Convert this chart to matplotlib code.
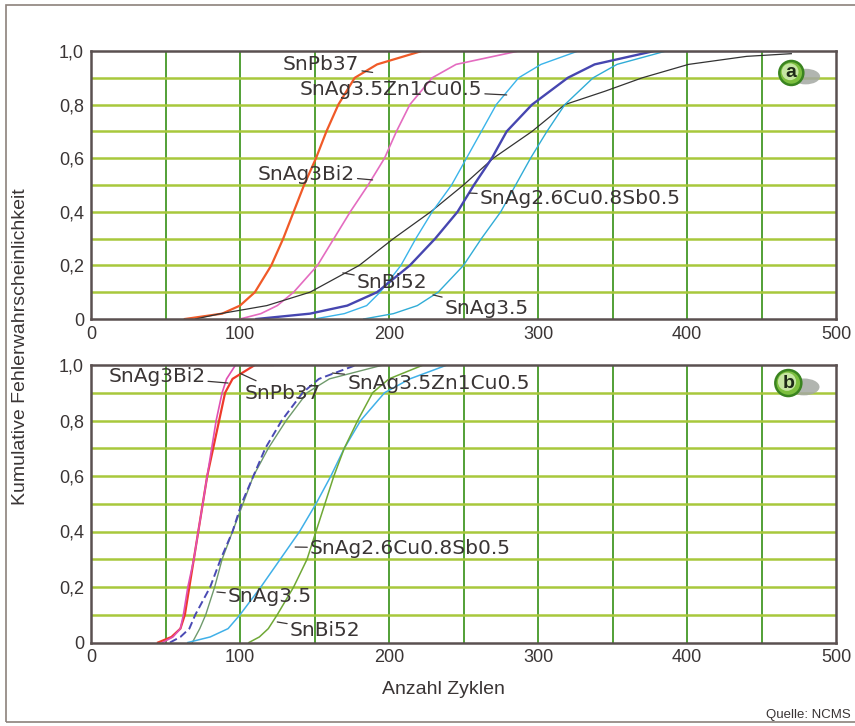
import matplotlib
matplotlib.use("Agg")
import matplotlib.pyplot as plt
from matplotlib.patches import Rectangle, Ellipse
from matplotlib.transforms import ScaledTranslation

# ---------------- data (panel a) ----------------
levels = [0, 0.02, 0.05, 0.1, 0.2, 0.3, 0.4, 0.5, 0.6, 0.7, 0.8, 0.9, 0.95, 1.0, 1.0]

a_snpb37_x = [63, 88, 100, 110, 121, 129, 136, 143, 151, 158, 166, 177, 192, 222, 240]
a_snag3bi2_x = [100, 114, 125, 136, 152, 163, 174, 186, 197, 205, 214, 229, 245, 287, 300]
a_snag35zn_x = [150, 170, 185, 194, 208, 218, 229, 242, 252, 262, 272, 287, 302, 327, 350]
a_snag26_x = [111, 147, 172, 192, 214, 231, 246, 257, 269, 279, 296, 320, 338, 378, 470]
a_snag35_x = [183, 203, 219, 233, 250, 262, 275, 285, 295, 306, 318, 337, 353, 386, 420]
a_snbi52_x = [70, 87, 118, 147, 180, 203, 228, 250, 270, 296, 318, 345, 370, 401, 440, 470]
a_snbi52_y = [0, 0.02, 0.05, 0.1, 0.2, 0.3, 0.4, 0.5, 0.6, 0.7, 0.8, 0.85, 0.9, 0.95, 0.98, 0.99]

# ---------------- data (panel b) ----------------
b_snpb37_x = [45, 54, 60, 63, 66, 69, 72, 75, 78, 82, 86, 90, 95, 110, 122]
b_snag3bi2_x = [48, 55, 60, 62, 65, 69, 72, 75, 78, 81, 84, 88, 91, 97, 104]
b_snag35_x = [53, 60, 66, 70, 80, 87, 95, 101, 109, 117, 128, 142, 153, 178, 200]
b_snag35zn_x = [68, 70, 73, 77, 83, 88, 95, 102, 109, 119, 131, 145, 160, 196, 210]
b_snag26_x = [65, 80, 92, 100, 114, 127, 140, 151, 161, 170, 181, 197, 214, 239, 245]
b_snbi52_x = [106, 113, 119, 125, 136, 145, 151, 157, 163, 170, 179, 189, 200, 223, 235]

x_ticks = [0, 100, 200, 300, 400, 500]
y_ticks = [0, 0.2, 0.4, 0.6, 0.8, 1.0]
y_tick_labels = ["0", "0,2", "0,4", "0,6", "0,8", "1,0"]

W, H = 855, 726
fig = plt.figure(figsize=(W / 100, H / 100), dpi=100)
fig.patch.set_facecolor("white")

TICKFONT = ["Liberation Sans", "DejaVu Sans"]
LABFONT = ["DejaVu Sans"]
TXT = "#3a3535"

ax_a = fig.add_axes([91 / W, 1 - 319 / H, (836 - 91) / W, 268 / H])
ax_b = fig.add_axes([91 / W, 1 - 642.5 / H, (836 - 91) / W, 277.5 / H])


def style(ax):
    ax.set_xlim(0, 500)
    ax.set_ylim(0, 1.0)
    for v in range(50, 500, 50):
        ax.axvline(v, color="#52a036", lw=1.4, zorder=1)
    for i in range(1, 10):
        ax.axhline(i / 10, color="#a8c83c", lw=1.8, zorder=1)
    ax.set_xticks(x_ticks)
    ax.set_xticklabels([str(t) for t in x_ticks], family=TICKFONT, fontsize=13, color=TXT)
    ax.set_yticks(y_ticks)
    ax.set_yticklabels(y_tick_labels, family=TICKFONT, fontsize=13, color=TXT)
    ax.tick_params(length=0, pad=5)
    for s in ax.spines.values():
        s.set_color("#5a5050")
        s.set_linewidth(1.8)
        s.set_zorder(5)


style(ax_a)
style(ax_b)

# ---- panel a curves
ax_a.plot(a_snpb37_x, levels, color="#f05a28", lw=1.6, zorder=3)
ax_a.plot(a_snag3bi2_x, levels, color="#e46cc0", lw=1.2, zorder=3)
ax_a.plot(a_snbi52_x, a_snbi52_y, color="#333333", lw=0.9, zorder=3)
ax_a.plot(a_snag35zn_x, levels, color="#3ab4ea", lw=1.0, zorder=3)
ax_a.plot(a_snag26_x, levels, color="#4646b0", lw=1.7, zorder=3)
ax_a.plot(a_snag35_x, levels, color="#30acd6", lw=1.0, zorder=3)

# ---- panel b curves
ax_b.plot(b_snpb37_x, levels, color="#ee3a2a", lw=1.6, zorder=3)
ax_b.plot(b_snag3bi2_x, levels, color="#e050b4", lw=1.2, zorder=3)
ax_b.plot(b_snag35zn_x, levels, color="#6f9a6c", lw=1.0, zorder=3)
ax_b.plot(b_snag35_x, levels, color="#4a4ab4", lw=1.4, ls=(0, (4, 2)), zorder=3)
ax_b.plot(b_snag26_x, levels, color="#40b0e8", lw=1.1, zorder=3)
ax_b.plot(b_snbi52_x, levels, color="#6fa836", lw=1.1, zorder=3)

LBL = dict(family=LABFONT, fontsize=14.5, color=TXT, zorder=6)
LEAD = dict(arrowstyle="-", color=TXT, lw=0.9, shrinkA=0, shrinkB=0)


def label(ax, text, tx, ty, px, py, ha):
    ax.annotate(text, xy=(px, py), xytext=(tx, ty), ha=ha, va="center",
                arrowprops=LEAD, **LBL)


# panel a labels
label(ax_a, "SnPb37", 180, 0.948, 189, 0.92, "right")
label(ax_a, "SnAg3.5Zn1Cu0.5", 140, 0.858, 279, 0.836, "left")
label(ax_a, "SnAg3Bi2", 177, 0.541, 189, 0.519, "right")
label(ax_a, "SnAg2.6Cu0.8Sb0.5", 261, 0.448, 254, 0.47, "left")
label(ax_a, "SnBi52", 178.5, 0.138, 169, 0.172, "left")
label(ax_a, "SnAg3.5", 237.5, 0.041, 229.5, 0.09, "left")

# panel b labels
label(ax_b, "SnAg3Bi2", 11.5, 0.957, 92, 0.935, "left")
label(ax_b, "SnPb37", 103, 0.899, 100, 0.97, "left")
label(ax_b, "SnAg3.5Zn1Cu0.5", 172, 0.935, 162, 0.971, "left")
label(ax_b, "SnAg2.6Cu0.8Sb0.5", 147, 0.337, 137, 0.344, "left")
label(ax_b, "SnAg3.5", 92, 0.164, 84.5, 0.182, "left")
label(ax_b, "SnBi52", 133.5, 0.045, 125, 0.074, "left")


def badge(ax, letter, x, y, r_px):
    r = r_px / 100.0
    sh = ScaledTranslation(x, y, ax.transData)
    shadow = Ellipse((r * 1.2, -r * 0.3), 2.4 * r, 1.3 * r,
                     transform=fig.dpi_scale_trans + sh,
                     facecolor="#a4a8a2", edgecolor="none", alpha=0.85, zorder=7)
    ax.add_patch(shadow)
    circ = Ellipse((0, 0), 2 * r, 2 * r, transform=fig.dpi_scale_trans + sh,
                   facecolor="#7cbf3e", edgecolor="#3a8420", lw=1.8, zorder=8)
    ax.add_patch(circ)
    inner = Ellipse((-0.1 * r, 0.1 * r), 1.4 * r, 1.4 * r,
                    transform=fig.dpi_scale_trans + sh,
                    facecolor="#c6e6a2", edgecolor="none", zorder=8)
    ax.add_patch(inner)
    ax.text(x, y, letter, ha="center", va="center", family=TICKFONT,
            fontsize=14, fontweight="bold", color="#1e2a18", zorder=9)


badge(ax_a, "a", 470, 0.918, 12)
badge(ax_b, "b", 468, 0.935, 13)

# axis titles and source
fig.text(21 / W, 1 - 347 / H, "Kumulative Fehlerwahrscheinlichkeit", rotation=90,
         ha="center", va="center", family=TICKFONT, fontsize=14, color=TXT)
fig.text(443 / W, 1 - 690 / H, "Anzahl Zyklen", ha="center", va="center",
         family=TICKFONT, fontsize=14, color=TXT)
fig.text(851 / W, 1 - 715 / H, "Quelle: NCMS", ha="right", va="center",
         family=TICKFONT, fontsize=9.5, color=TXT)

# outer frame
fig.patches.append(Rectangle((6 / W, 1 - 722 / H), (870 - 6) / W, (722 - 5) / H,
                             transform=fig.transFigure, fill=False,
                             edgecolor="#8c827c", lw=1.2))

fig.savefig("out.png", dpi=100)
